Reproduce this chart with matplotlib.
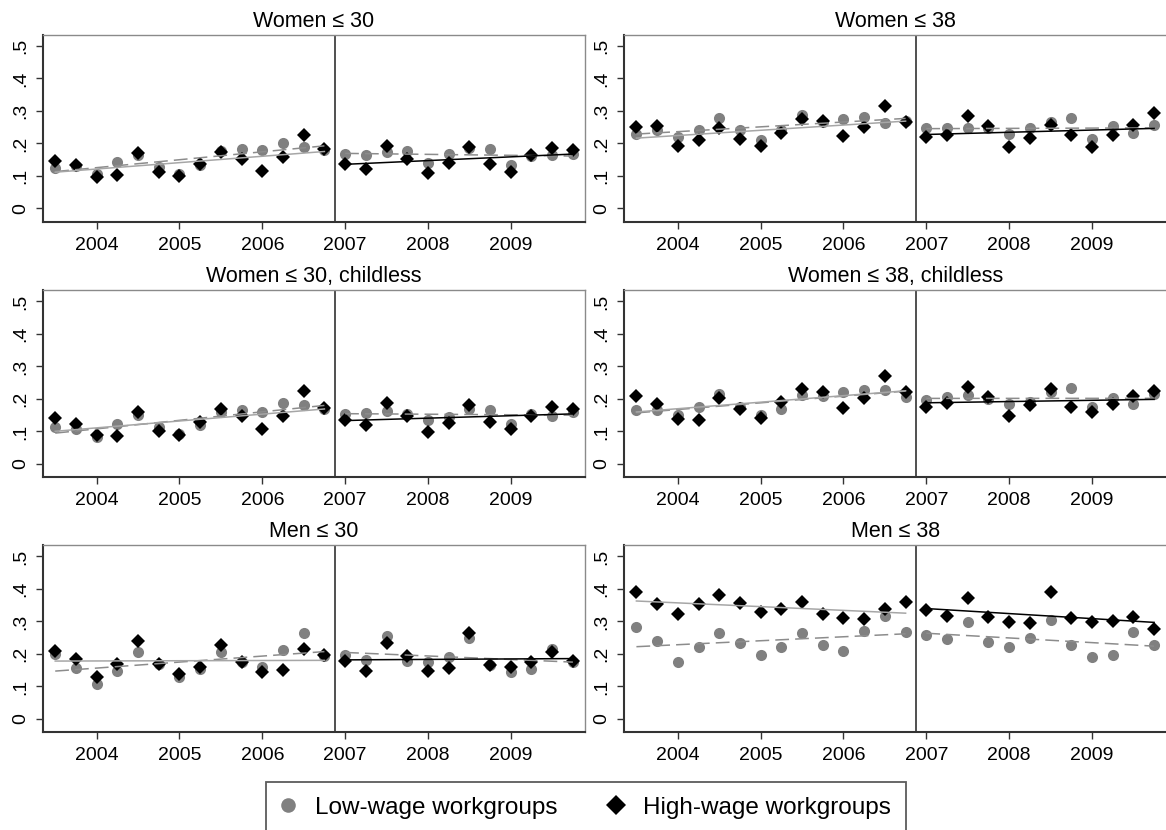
import numpy as np
import matplotlib.pyplot as plt
from matplotlib.lines import Line2D

plt.rcParams['font.family'] = ['Liberation Sans', 'DejaVu Sans']

quarters = [2003.5, 2003.75, 2004.0, 2004.25, 2004.5, 2004.75, 2005.0, 2005.25,
            2005.5, 2005.75, 2006.0, 2006.25, 2006.5, 2006.75,
            2007.0, 2007.25, 2007.5, 2007.75, 2008.0, 2008.25, 2008.5, 2008.75,
            2009.0, 2009.25, 2009.5, 2009.75]
n_pre = 14  # quarters before the reform line

titles = ['Women ≤ 30', 'Women ≤ 38', 'Women ≤ 30, childless',
          'Women ≤ 38, childless', 'Men ≤ 30', 'Men ≤ 38']

# low-wage workgroups (grey circles)
w30_low = [0.123, 0.130, 0.105, 0.142, 0.165, 0.128, 0.105, 0.135, 0.178, 0.183, 0.180, 0.200, 0.188, 0.180,
           0.169, 0.165, 0.175, 0.178, 0.139, 0.167, 0.185, 0.182, 0.133, 0.160, 0.164, 0.167]
w38_low = [0.229, 0.240, 0.221, 0.241, 0.277, 0.241, 0.210, 0.240, 0.287, 0.265, 0.274, 0.282, 0.264, 0.270,
           0.246, 0.246, 0.246, 0.246, 0.229, 0.246, 0.267, 0.277, 0.213, 0.254, 0.233, 0.257]
w30c_low = [0.113, 0.108, 0.082, 0.124, 0.150, 0.113, 0.093, 0.119, 0.160, 0.165, 0.160, 0.188, 0.180, 0.170,
            0.153, 0.157, 0.163, 0.155, 0.136, 0.144, 0.170, 0.167, 0.124, 0.153, 0.147, 0.160]
w38c_low = [0.165, 0.165, 0.150, 0.175, 0.216, 0.175, 0.150, 0.170, 0.211, 0.208, 0.222, 0.229, 0.227, 0.206,
            0.196, 0.206, 0.211, 0.201, 0.186, 0.190, 0.220, 0.234, 0.175, 0.204, 0.184, 0.215]
m30_low = [0.200, 0.157, 0.108, 0.147, 0.206, 0.170, 0.129, 0.155, 0.206, 0.175, 0.160, 0.211, 0.263, 0.195,
           0.196, 0.180, 0.256, 0.177, 0.175, 0.191, 0.249, 0.165, 0.146, 0.153, 0.214, 0.175]
m38_low = [0.282, 0.240, 0.175, 0.222, 0.263, 0.233, 0.196, 0.222, 0.263, 0.229, 0.208, 0.271, 0.318, 0.268,
           0.258, 0.247, 0.299, 0.237, 0.222, 0.249, 0.303, 0.229, 0.191, 0.198, 0.266, 0.227]

# high-wage workgroups (black diamonds)
w30_high = [0.147, 0.133, 0.098, 0.103, 0.171, 0.111, 0.101, 0.137, 0.175, 0.151, 0.116, 0.157, 0.226, 0.182,
            0.137, 0.120, 0.193, 0.151, 0.108, 0.139, 0.190, 0.137, 0.113, 0.164, 0.187, 0.180]
w38_high = [0.252, 0.254, 0.193, 0.210, 0.246, 0.213, 0.193, 0.233, 0.274, 0.270, 0.223, 0.252, 0.315, 0.267,
            0.221, 0.226, 0.284, 0.255, 0.190, 0.218, 0.257, 0.226, 0.190, 0.226, 0.257, 0.293]
w30c_high = [0.142, 0.124, 0.088, 0.085, 0.160, 0.101, 0.088, 0.129, 0.168, 0.149, 0.108, 0.149, 0.224, 0.173,
             0.134, 0.121, 0.188, 0.149, 0.098, 0.126, 0.180, 0.129, 0.108, 0.147, 0.175, 0.170]
w38c_high = [0.208, 0.186, 0.139, 0.134, 0.204, 0.170, 0.142, 0.191, 0.232, 0.222, 0.172, 0.204, 0.270, 0.222,
             0.175, 0.188, 0.237, 0.206, 0.149, 0.180, 0.232, 0.175, 0.160, 0.186, 0.208, 0.225]
m30_high = [0.208, 0.186, 0.129, 0.168, 0.239, 0.170, 0.139, 0.160, 0.227, 0.175, 0.146, 0.152, 0.214, 0.196,
            0.178, 0.147, 0.234, 0.193, 0.147, 0.158, 0.265, 0.165, 0.160, 0.175, 0.206, 0.177]
m38_high = [0.392, 0.353, 0.322, 0.353, 0.381, 0.356, 0.328, 0.337, 0.359, 0.322, 0.311, 0.307, 0.337, 0.359,
            0.335, 0.318, 0.371, 0.314, 0.299, 0.294, 0.389, 0.309, 0.297, 0.302, 0.314, 0.278]

low_series = [w30_low, w38_low, w30c_low, w38c_low, m30_low, m38_low]
high_series = [w30_high, w38_high, w30c_high, w38c_high, m30_high, m38_high]

yticks = [0, 0.1, 0.2, 0.3, 0.4, 0.5]
ytick_labels = ['0', '.1', '.2', '.3', '.4', '.5']
xticks = [2004, 2005, 2006, 2007, 2008, 2009]
break_x = 2006.875

W, H = 1166, 830
col_left = [42.8, 624]
row_top = [34.5, 290, 545]
aw, ah = 542.5, 187

fig = plt.figure(figsize=(W / 100, H / 100), dpi=100)

x = np.array(quarters)
for i in range(6):
    r, c = divmod(i, 2)
    ax = fig.add_axes([col_left[c] / W, 1 - (row_top[r] + ah) / H, aw / W, ah / H])
    lo = np.array(low_series[i])
    hi = np.array(high_series[i])

    ax.plot(x, lo, 'o', color='#808080', ms=8, mew=0, zorder=2)
    ax.plot(x, hi, 'D', color='black', ms=7, mew=0, zorder=3)

    # linear fits, separately before and after the break
    for sl, hi_col in [(slice(0, n_pre), '#a6a6a6'), (slice(n_pre, None), 'black')]:
        xs = x[sl]
        bl = np.polyfit(xs, lo[sl], 1)
        bh = np.polyfit(xs, hi[sl], 1)
        xe = np.array([xs[0], xs[-1]])
        ax.plot(xe, np.polyval(bl, xe), color='#8c8c8c', lw=1.1, dashes=(9, 4), zorder=4)
        ax.plot(xe, np.polyval(bh, xe), color=hi_col, lw=1.1, zorder=4)

    ax.axvline(break_x, color='#505050', lw=1.4, zorder=1)

    ax.set_xlim(2003.35, 2009.9)
    ax.set_ylim(-0.04, 0.535)
    ax.set_xticks(xticks)
    ax.set_xticklabels([str(t) for t in xticks], fontsize=14)
    ax.set_yticks(yticks)
    ax.set_yticklabels(ytick_labels, fontsize=14, rotation=90, va='center')
    ax.tick_params(axis='both', direction='out', length=5, width=1, color='#333333')
    ax.tick_params(axis='x', pad=6)
    ax.tick_params(axis='y', pad=5)
    for side in ['left', 'bottom']:
        ax.spines[side].set_color('#333333')
        ax.spines[side].set_linewidth(1.5)
    for side in ['top', 'right']:
        ax.spines[side].set_color('#8a8a8a')
        ax.spines[side].set_linewidth(1.0)
    ax.set_title(titles[i], fontsize=15.5, pad=5.5)

handles = [Line2D([], [], ls='none', marker='o', color='#808080', ms=10.5, mew=0),
           Line2D([], [], ls='none', marker='D', color='black', ms=10, mew=0)]
leg = fig.legend(handles, ['Low-wage workgroups', 'High-wage workgroups'],
                 loc='upper left', bbox_to_anchor=(266 / W, 1 - 782 / H), ncol=2,
                 fontsize=17.5, frameon=True, fancybox=False, borderaxespad=0,
                 handlelength=0.62, handletextpad=0.8, columnspacing=2.1, borderpad=0.6)
leg.get_frame().set_edgecolor('#333333')
leg.get_frame().set_linewidth(1.3)

fig.savefig('out.png', dpi=100)
